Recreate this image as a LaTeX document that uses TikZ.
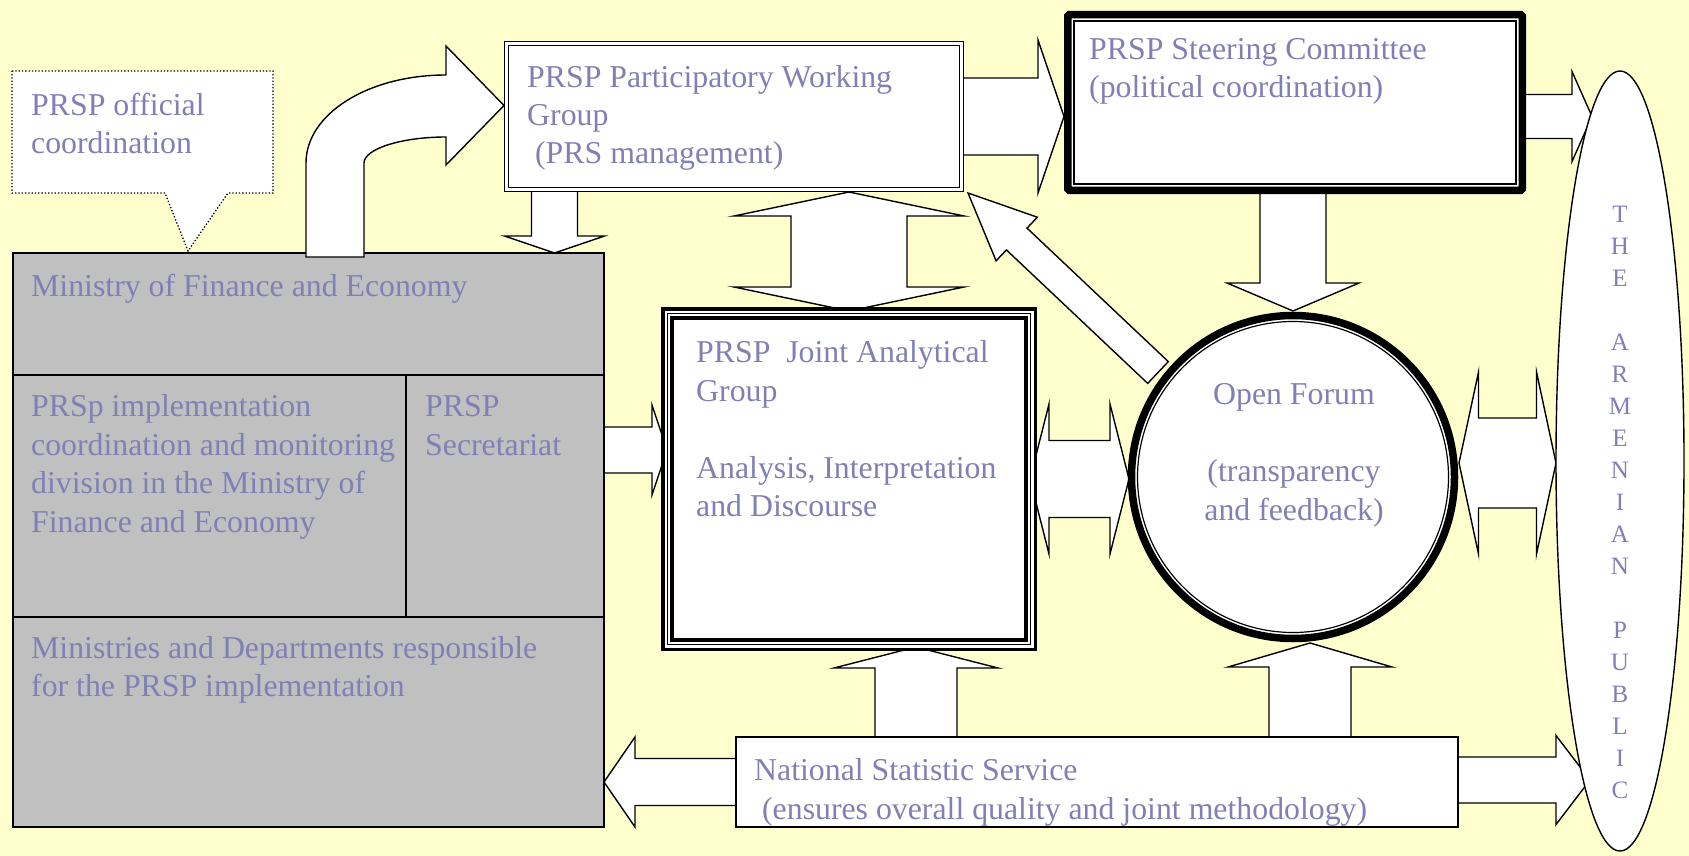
\documentclass[tikz,border=0pt]{standalone}
\usepackage{fontspec}
\setmainfont{Liberation Serif}
\usetikzlibrary{calc,shapes.geometric}

\definecolor{bgyellow}{RGB}{255,255,206}
\definecolor{boxgray}{RGB}{192,192,192}
\definecolor{txtblue}{RGB}{128,128,182}

\pgfdeclarelayer{back}
\pgfdeclarelayer{arrows}
\pgfsetlayers{back,arrows,main}

% block arrow: tail, tip, half shaft, half head, head length
\newcommand{\barrow}[5]{%
  \coordinate (ba-h) at ($(#2)!#5pt!(#1)$);
  \draw[blockarrow] ($(#1)!#3pt!90:(#2)$) -- ($(ba-h)!#3pt!90:(#2)$)
    -- ($(ba-h)!#4pt!90:(#2)$) -- (#2) -- ($(ba-h)!#4pt!-90:(#2)$)
    -- ($(ba-h)!#3pt!-90:(#2)$) -- ($(#1)!#3pt!-90:(#2)$) -- cycle;}
% double block arrow: tip, tip, half shaft, half head, head length
\newcommand{\dbarrow}[5]{%
  \coordinate (ba-a) at ($(#1)!#5pt!(#2)$);
  \coordinate (ba-b) at ($(#2)!#5pt!(#1)$);
  \draw[blockarrow] (#1) -- ($(ba-a)!#4pt!90:(#2)$) -- ($(ba-a)!#3pt!90:(#2)$)
    -- ($(ba-b)!#3pt!-90:(#1)$) -- ($(ba-b)!#4pt!-90:(#1)$) -- (#2)
    -- ($(ba-b)!#4pt!90:(#1)$) -- ($(ba-b)!#3pt!90:(#1)$)
    -- ($(ba-a)!#3pt!-90:(#2)$) -- ($(ba-a)!#4pt!-90:(#2)$) -- cycle;}

\begin{document}
\begin{tikzpicture}[x=1pt,y=-1pt,
    txt/.style={text=txtblue, font=\fontsize{31.8}{38.5}\selectfont,
      inner sep=0pt, align=left, anchor=base west},
    box/.style={draw, fill=white, line width=1.4pt, inner sep=0pt,
      outer sep=0pt, anchor=north west},
    graybox/.style={box, fill=boxgray},
    blockarrow/.style={draw, fill=white, line width=1.4pt, line join=miter}]

\begin{pgfonlayer}{back}
  \fill[bgyellow] (0,0) rectangle (1689,856);
\end{pgfonlayer}
\useasboundingbox (0,0) rectangle (1689,856);

% callout (text nodes sit on the baseline of their last line)
\draw[dotted, line width=1.3pt, fill=white] (12,71) -- (273,71) -- (273,193)
  -- (228,193) -- (188,251) -- (165,193) -- (12,193) -- cycle;
\node[txt] (coordtxt) at (31,153.5) {PRSP official\\coordination};

% ministry block
\node[graybox, minimum width=591pt, minimum height=122pt] (mfe) at (13,253) {};
\node[graybox, minimum width=393pt, minimum height=242pt] (impl) at (13,375) {};
\node[graybox, minimum width=198pt, minimum height=242pt] (secr) at (406,375) {};
\node[graybox, minimum width=591pt, minimum height=210pt] (minis) at (13,617) {};
\node[txt] (mfetxt) at (31,296.5) {Ministry of Finance and Economy};
\node[txt] (impltxt) at (31,532) {PRSp implementation\\coordination and monitoring\\division in the Ministry of\\Finance and Economy};
\node[txt] (secrtxt) at (425,455) {PRSP\\Secretariat};
\node[txt] (ministxt) at (31,696.5) {Ministries and Departments responsible\\for the PRSP implementation};

% curved arrow up to the working group
\coordinate (pwgtip) at (504,105.5);
\draw[blockarrow] (306,257) -- (306,163) .. controls (306,114) and (368,75) .. (446,75)
  -- (446,46) -- (pwgtip) -- (446,165) -- (446,137)
  .. controls (401,137) and (364,149) .. (364,163) -- (364,257) -- cycle;

% working group
\node[box, double=white, double distance=2.6pt, line width=1.2pt,
  minimum width=455pt, minimum height=146pt] (pwg) at (506.5,43.5) {};
\node[txt] (pwgtxt) at (527,164) {PRSP Participatory Working\\Group\\\ (PRS management)};

% steering committee
\node[box, line width=7.5pt, rounded corners=1.5pt,
  minimum width=454.5pt, minimum height=175.5pt] (steer) at (1067.75,14.75) {};
\draw[line width=1.2pt] ($(steer.north west)+(6.25,6.25)$) rectangle ($(steer.south east)+(-6.25,-6.25)$);
\node[txt] (steertxt) at (1089,98) {PRSP Steering Committee\\(political coordination)};

% joint analytical group
\node[box, line width=3.5pt, minimum width=372.5pt, minimum height=340.5pt] (jag) at (662.75,308.75) {};
\draw[line width=1.3pt] ($(jag.north west)+(4.75,4.75)$) rectangle ($(jag.south east)+(-4.75,-4.75)$);
\draw[line width=3.5pt] ($(jag.north west)+(9.25,9.25)$) rectangle ($(jag.south east)+(-9.25,-9.25)$);
\node[txt] (jagtxt) at (696,516.5) {PRSP\ \ Joint Analytical\\Group\\\mbox{}\\Analysis, Interpretation\\and Discourse};

% open forum
\node[draw, fill=white, circle, line width=7.5pt, inner sep=0pt, outer sep=0pt,
  minimum size=323pt] (forum) at (1293,477) {};
\draw[line width=1.2pt] (forum.center) circle (155.5);
\node[txt, align=center, anchor=base] (forumtxt) at (1294,520) {Open Forum\\\mbox{}\\(transparency\\and feedback)};

% statistic service
\node[box, minimum width=722pt, minimum height=90pt] (nss) at (736,737) {};
\node[txt] (nsstxt) at (754,819) {National Statistic Service\\\ (ensures overall quality and joint methodology)};

% the public
\node[draw, fill=white, ellipse, line width=1.4pt, inner sep=0pt,
  minimum width=128pt, minimum height=780pt] (public) at (1620,461) {};
\node[txt, font=\fontsize{25}{32}\selectfont, align=center, anchor=base] (pubtxt) at (1620,798.5)
  {T\\H\\E\\\mbox{}\\A\\R\\M\\E\\N\\I\\A\\N\\\mbox{}\\P\\U\\B\\L\\I\\C};

\begin{pgfonlayer}{arrows}
  \coordinate (a1s) at ($(pwg.south west)+(48,0)$);
  \coordinate (a1e) at (a1s |- mfe.north);
  \barrow{a1s}{a1e}{23}{50}{17}
  \coordinate (a3s) at (pwg.east);
  \coordinate (a3e) at (1064,116.5);
  \barrow{a3s}{a3e}{38.5}{76.5}{26}
  \coordinate (a4s) at ($(steer.east)+(0,14)$);
  \coordinate (a4e) at (1592,116.5);
  \barrow{a4s}{a4e}{22}{45}{20}
  \coordinate (a5s) at (forum.center |- steer.south);
  \coordinate (a5e) at (1293,311);
  \barrow{a5s}{a5e}{33}{66}{28}
  \coordinate (a6a) at (849,192);
  \coordinate (a6b) at (849,311);
  \dbarrow{a6a}{a6b}{58}{115}{24}
  \coordinate (a7s) at ($(secr.north east)+(0,75)$);
  \coordinate (a7e) at (667,450);
  \barrow{a7s}{a7e}{23}{45}{15}
  \coordinate (a8a) at (1030,479);
  \coordinate (a8b) at (1129,479);
  \dbarrow{a8a}{a8b}{38.5}{75}{19}
  \coordinate (a9a) at (1459,463);
  \coordinate (a9b) at (1556,463);
  \dbarrow{a9a}{a9b}{45}{91}{19.5}
  \coordinate (a10s) at ($(nss.north west)+(180,0)$);
  \coordinate (a10e) at (916,647);
  \barrow{a10s}{a10e}{41}{82}{21}
  \coordinate (a11s) at ($(nss.north west)+(574,0)$);
  \coordinate (a11e) at (1310,643);
  \barrow{a11s}{a11e}{41}{82}{24}
  \coordinate (a12s) at (nss.west);
  \coordinate (a12e) at (a12s -| minis.east);
  \barrow{a12s}{a12e}{23.5}{45}{31}
  \coordinate (a13s) at ($(nss.east)+(0,-2)$);
  \coordinate (a13e) at (1590,780);
  \barrow{a13s}{a13e}{23}{44.5}{34}
  \coordinate (a14s) at ($(forum.center)+(-135,-104.5)$);
  \coordinate (a14e) at (968,193);
  \barrow{a14s}{a14e}{15}{30}{67}
\end{pgfonlayer}
\end{tikzpicture}
\end{document}
